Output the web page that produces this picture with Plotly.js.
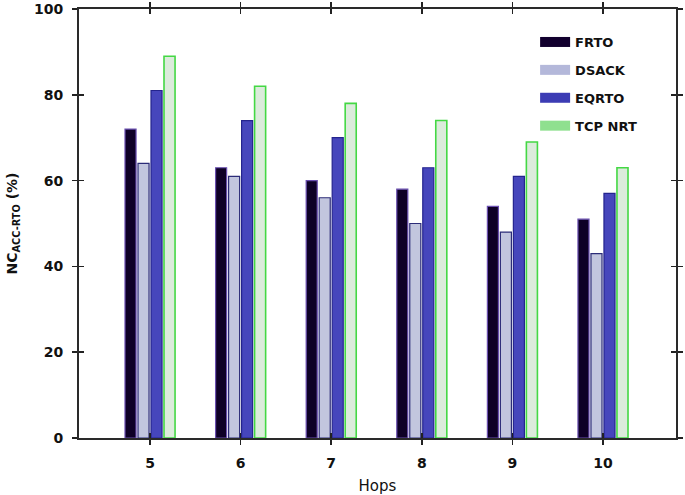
<!DOCTYPE html>
<html>
<head>
<meta charset="utf-8">
<script src="https://cdn.plot.ly/plotly-3.0.1.min.js"></script>
<style>html,body{margin:0;padding:0;background:#fff}#chart{width:685px;height:495px}</style>
</head>
<body>
<div id="chart"></div>
<script>
const hops = [5, 6, 7, 8, 9, 10];
const seriesNames = ['FRTO', 'DSACK', 'EQRTO', 'TCP NRT'];
const frto = [72, 63, 60, 58, 54, 51];
const dsack = [64, 61, 56, 50, 48, 43];
const eqrto = [81, 74, 70, 63, 61, 57];
const tcpNrt = [89, 82, 78, 74, 69, 63];
const yTicks = [0, 20, 40, 60, 80, 100];

const fills = ['#0e0026', '#c2c6de', '#4646bc', '#dcebdc'];
const outlines = ['#6a4fb0', '#2c2c78', '#24248e', '#44d844'];
const legendColors = ['#12002e', '#b4b8da', '#3c3cb4', '#8fe08f'];
const values = [frto, dsack, eqrto, tcpNrt];

const traces = values.map((v, i) => ({
  type: 'bar', x: hops, y: v, name: seriesNames[i],
  marker: {color: fills[i], line: {color: outlines[i], width: i === 3 ? 1.6 : 1.2}},
  showlegend: false, hoverinfo: 'skip'
}));
seriesNames.forEach((n, i) => {
  traces.push({
    type: 'scatter', mode: 'lines', x: [null], y: [null], name: n,
    line: {color: legendColors[i], width: 11}, legendgroup: 'g' + i,
    showlegend: true, hoverinfo: 'skip'
  });
});
traces.push({type: 'scatter', mode: 'markers', x: [null], y: [null], xaxis: 'x2', yaxis: 'y2', showlegend: false, hoverinfo: 'skip'});

const tickFont = {family: 'DejaVu Sans', size: 14, color: '#111', weight: 'bold'};
const xr = [4.216, 10.806];
const layout = {
  width: 685, height: 495,
  margin: {l: 79, r: 9, t: 9, b: 57},
  paper_bgcolor: '#fff', plot_bgcolor: '#fff',
  barmode: 'group', bargap: 0.426, bargroupgap: 0.15,
  showlegend: true,
  legend: {x: 0.764, y: 0.958, xanchor: 'left', yanchor: 'top', bgcolor: 'rgba(0,0,0,0)',
           font: {family: 'DejaVu Sans', size: 13, color: '#111', weight: 'bold'},
           tracegroupgap: 8, itemwidth: 30},
  xaxis: {range: xr, tickvals: hops, ticktext: hops.map(String), ticks: 'outside', ticklen: 5, tickwidth: 1.5,
          tickcolor: '#222', showline: true, linecolor: '#2a2a2a', linewidth: 2, mirror: 'allticks',
          showgrid: false, zeroline: false, tickfont: tickFont, ticklabelstandoff: 6,
          title: {text: 'Hops', font: {family: 'DejaVu Sans', size: 15, color: '#111'}, standoff: 14}},
  yaxis: {range: [0, 100], tickvals: yTicks, ticks: 'outside', ticklen: 5, tickwidth: 1.5,
          tickcolor: '#222', showline: true, linecolor: '#2a2a2a', linewidth: 2, mirror: 'allticks',
          showgrid: false, zeroline: false, tickfont: tickFont, ticklabelstandoff: 6,
          title: {text: 'NC<sub>ACC-RTO</sub> (%)', font: {family: 'DejaVu Sans', size: 14, color: '#111', weight: 'bold'}, standoff: 13}},
  xaxis2: {overlaying: 'x', range: xr, tickvals: hops, ticks: 'inside', ticklen: 5, tickwidth: 1.5, tickcolor: '#222',
           showticklabels: false, showgrid: false, zeroline: false, mirror: 'allticks', showline: false, anchor: 'y2'},
  yaxis2: {overlaying: 'y', range: [0, 100], tickvals: yTicks, ticks: 'inside', ticklen: 5, tickwidth: 1.5, tickcolor: '#222',
           showticklabels: false, showgrid: false, zeroline: false, mirror: 'allticks', showline: false, anchor: 'x2'}
};
Plotly.newPlot('chart', traces, layout, {displayModeBar: false, staticPlot: true});
</script>
</body>
</html>
